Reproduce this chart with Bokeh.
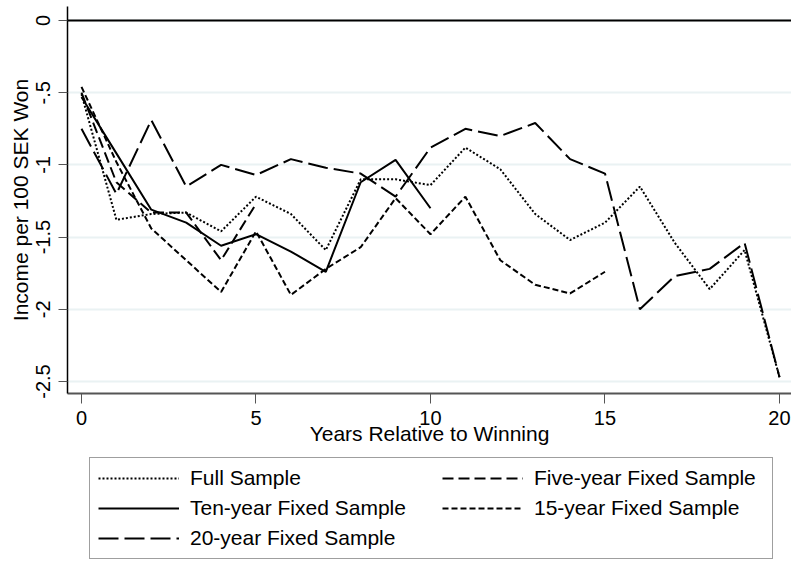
from bokeh.plotting import figure
from bokeh.models import FixedTicker, Span, Range1d, Legend, LegendItem
from bokeh.layouts import column
from bokeh.embed import file_html
from bokeh.resources import INLINE

# values
years = [0, 1, 2, 3, 4, 5, 6, 7, 8, 9, 10, 11, 12, 13, 14, 15, 16, 17, 18, 19, 20]
full_sample = [-0.51, -1.38, -1.34, -1.33, -1.46, -1.22, -1.34, -1.59, -1.10, -1.10, -1.14,
               -0.88, -1.03, -1.34, -1.52, -1.40, -1.15, -1.54, -1.86, -1.59, -2.47]
five_year = [-0.50, -1.12, -1.33, -1.33, -1.66, -1.27]
ten_year = [-0.53, -0.92, -1.31, -1.40, -1.56, -1.48, -1.60, -1.74, -1.12, -0.965, -1.30]
fifteen_year = [-0.46, -0.98, -1.44, -1.66, -1.88, -1.46, -1.90, -1.72, -1.57, -1.23, -1.48,
                -1.22, -1.66, -1.83, -1.89, -1.74]
twenty_year = [-0.75, -1.20, -0.69, -1.15, -1.00, -1.07, -0.96, -1.02, -1.06, -1.22, -0.88,
               -0.75, -0.80, -0.71, -0.96, -1.06, -2.00, -1.77, -1.72, -1.54, -2.47]

x_ticks = [0, 5, 10, 15, 20]
y_ticks = [0, -0.5, -1, -1.5, -2, -2.5]
y_tick_labels = ["0", "-.5", "-1", "-1.5", "-2", "-2.5"]

FONT = "Liberation Sans"

# main chart
p = figure(width=791, height=453, x_range=Range1d(-0.401, 20.344), y_range=Range1d(-2.583, 0.097),
           toolbar_location=None, output_backend="svg",
           min_border_left=67, min_border_right=0, min_border_top=6, min_border_bottom=60,
           outline_line_color=None)

p.xgrid.visible = False
p.ygrid.ticker = FixedTicker(ticks=y_ticks)
p.ygrid.grid_line_color = "#eaf2f3"
p.ygrid.grid_line_width = 2

p.xaxis.ticker = FixedTicker(ticks=x_ticks)
p.yaxis.ticker = FixedTicker(ticks=y_ticks)
p.yaxis.major_label_overrides = dict(zip(y_ticks, y_tick_labels))
p.yaxis.major_label_orientation = "vertical"

p.xaxis.axis_label = "Years Relative to Winning"
p.yaxis.axis_label = "Income per 100 SEK Won"

for ax in (p.xaxis, p.yaxis):
    ax.major_label_text_font = FONT
    ax.major_label_text_font_size = "20px"
    ax.major_label_text_color = "black"
    ax.axis_label_text_font = FONT
    ax.axis_label_text_font_size = "21px"
    ax.axis_label_text_font_style = "normal"
    ax.axis_label_text_color = "black"
    ax.minor_tick_line_color = None
    ax.major_tick_in = 0
    ax.major_tick_line_color = "#555555"

p.xaxis.major_tick_out = 10
p.xaxis.major_label_standoff = 7
p.xaxis.axis_label_standoff = -6
p.xaxis.axis_line_color = "#555555"
p.xaxis.axis_line_width = 2

p.yaxis.major_tick_out = 9
p.yaxis.major_label_standoff = 8
p.yaxis.axis_label_standoff = 2
p.yaxis.axis_line_color = "black"
p.yaxis.axis_line_width = 1.5

p.add_layout(Span(location=0, dimension="width", line_color="black", line_width=2))

styles = {
    "full": dict(line_dash="2 2"),
    "five": dict(line_dash="11 5"),
    "ten": dict(line_dash="solid"),
    "fifteen": dict(line_dash="6 3"),
    "twenty": dict(line_dash="20 6"),
}
series = {
    "full": (years, full_sample),
    "five": (years[:len(five_year)], five_year),
    "ten": (years[:len(ten_year)], ten_year),
    "fifteen": (years[:len(fifteen_year)], fifteen_year),
    "twenty": (years, twenty_year),
}

for key in ["twenty", "fifteen", "five", "ten", "full"]:
    xs, ys = series[key]
    p.line(xs, ys, line_color="black", line_width=2, **styles[key])

# legend strip below the chart; its lines sit outside the visible range
lg = figure(width=791, height=107, x_range=Range1d(0, 1), y_range=Range1d(10, 11),
            x_axis_location=None, y_axis_location=None, toolbar_location=None,
            output_backend="svg", min_border=0, outline_line_color=None)
lg.grid.visible = False

r = {}
for key, s in styles.items():
    xs, ys = series[key]
    r[key] = lg.line(xs, ys, line_color="black", line_width=2, **s)

common = dict(orientation="vertical", padding=8, spacing=6, margin=0,
              glyph_width=81, glyph_height=20, label_standoff=11, label_height=24,
              label_text_font=FONT, label_text_font_size="21px", label_text_color="black")

left_legend = Legend(items=[LegendItem(label="Full Sample", renderers=[r["full"]]),
                            LegendItem(label="Ten-year Fixed Sample", renderers=[r["ten"]]),
                            LegendItem(label="20-year Fixed Sample", renderers=[r["twenty"]])],
                     location=(22, 1), label_width=574,
                     border_line_color="#404040", border_line_width=1,
                     background_fill_color="white", **common)
right_legend = Legend(items=[LegendItem(label="Five-year Fixed Sample", renderers=[r["five"]]),
                             LegendItem(label="15-year Fixed Sample", renderers=[r["fifteen"]])],
                      location=(375, 40), border_line_color=None,
                      background_fill_alpha=0, **common)
lg.add_layout(left_legend)
lg.add_layout(right_legend)

layout = column(p, lg)
open("out.html", "w").write(file_html(layout, INLINE))
